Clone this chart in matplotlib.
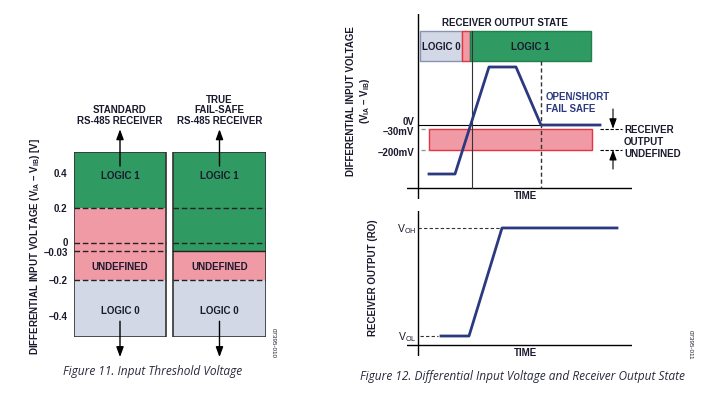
import numpy as np
import matplotlib.pyplot as plt
from matplotlib.patches import Rectangle

plt.rcParams['font.family'] = ['Liberation Sans', 'DejaVu Sans']
plt.rcParams['mathtext.fontset'] = 'custom'
plt.rcParams['mathtext.rm'] = 'Liberation Sans'
plt.rcParams['mathtext.bf'] = 'Liberation Sans:bold'

# ---- Figure 11: input threshold levels (V)
tick_volts = [0.4, 0.2, 0, -0.03, -0.2, -0.4]
tick_labels = ['0.4', '0.2', '0', '–0.03', '–0.2', '–0.4']
tick_nudge = [0, 0, 1.2, -1.2, 0, 0]   # px, to keep 0 and -0.03 apart
# schematic (non linear) spacing of the levels on the drawing
scale_volts = [-1.0, -0.52, -0.4, -0.2, -0.03, 0, 0.2, 0.4, 0.52, 1.0]
scale_pos = [-422, -338, -317, -281, -252, -244, -209, -174, -153, -69]

receivers = ['STANDARD\nRS-485 RECEIVER', 'TRUE\nFAIL-SAFE\nRS-485 RECEIVER']
# (bottom, top, state) for each receiver
bands = [
    [(-0.52, -0.2, 'LOGIC 0'), (-0.2, 0.2, 'UNDEFINED'), (0.2, 0.52, 'LOGIC 1')],
    [(-0.52, -0.2, 'LOGIC 0'), (-0.2, -0.03, 'UNDEFINED'), (-0.03, 0.52, 'LOGIC 1')],
]
dashed_levels = [[0.2, 0, -0.03, -0.2], [0.2, 0, -0.2]]
label_volts = {'LOGIC 1': 0.39, 'UNDEFINED': -0.115, 'LOGIC 0': -0.365}

# ---- Figure 12: differential input vs time (schematic mV)
t_in = [1.1, 3.7, 7.1, 9.8, 12.3, 18.2]
v_in = [-392, -392, 464, 464, 0, 0]
thr_hi = -30
thr_lo = -200
state_names = ['LOGIC 0', '', 'LOGIC 1']
state_start = [0.2, 4.4, 5.2]
state_end = [4.4, 5.2, 17.3]

# receiver output (VOL = 0, VOH = 1)
t_out = [2.3, 5.1, 8.4, 19.9]
v_out = [0, 0, 1, 1]

GREEN = '#2f9a62'
PINK = '#f09aa6'
GREY = '#d2d8e6'
NAVY = '#2b3a7e'
TXT = '#1a1a2e'
colors = {'LOGIC 0': GREY, 'UNDEFINED': PINK, 'LOGIC 1': GREEN, '': PINK}
ARROW = dict(arrowstyle='-|>,head_width=0.22,head_length=0.6', color='black', lw=1,
             shrinkA=0, shrinkB=0)

W, H = 711, 406
fig = plt.figure(figsize=(W / 100, H / 100), dpi=100)


def px_axes(x0, y0, x1, y1):
    ax = fig.add_axes([x0 / W, 1 - y1 / H, (x1 - x0) / W, (y1 - y0) / H])
    for s in ax.spines.values():
        s.set_visible(False)
    return ax


def fwd(v):
    return np.interp(v, scale_volts, scale_pos)


def inv(p):
    return np.interp(p, scale_pos, scale_volts)


# ===== left chart
ax1 = px_axes(74, 153, 266, 338)
ax1.set_yscale('function', functions=(fwd, inv))
ax1.set_ylim(-0.52, 0.52)
ax1.set_xlim(0, 2.087)
cols = [(0, 1.0), (1.076, 2.087)]
for (x0, x1), col_bands, dl, name in zip(cols, bands, dashed_levels, receivers):
    for lo, hi, st in col_bands:
        ax1.add_patch(Rectangle((x0, lo), x1 - x0, hi - lo, fc=colors[st], ec='none'))
        ax1.text((x0 + x1) / 2, label_volts[st], st, ha='center', va='center',
                 fontsize=7, fontweight='bold', color=TXT)
    for lv in dl:
        ax1.plot([x0, x1], [lv, lv], color='#222222', lw=1, ls=(0, (4, 2)))
    # solid boundary at -0.03 for the fail-safe receiver
    if len(dl) == 3:
        ax1.plot([x0, x1], [-0.03, -0.03], color='#222222', lw=1)
    ax1.add_patch(Rectangle((x0, -0.52), x1 - x0, 1.04, fc='none', ec='#333333', lw=1.2))
    xm = (x0 + x1) / 2
    ax1.annotate('', xy=(xm, 0.65), xytext=(xm, 0.44), annotation_clip=False, arrowprops=ARROW)
    ax1.annotate('', xy=(xm, -0.635), xytext=(xm, -0.43), annotation_clip=False, arrowprops=ARROW)
    ax1.text(xm, 0.675, name, ha='center', va='bottom', fontsize=7, fontweight='bold',
             color=TXT, linespacing=1.05)
ax1.set_xticks([])
ax1.set_yticks([])
for v, lab, dy in zip(tick_volts, tick_labels, tick_nudge):
    ax1.annotate(lab, xy=(0, v), xytext=(-4.5, dy * 0.72), textcoords='offset points',
                 ha='right', va='center', fontsize=7, fontweight='bold', color=TXT,
                 annotation_clip=False)

fig.text(35 / W, 1 - 247 / H,
         r'DIFFERENTIAL INPUT VOLTAGE (V$_{\mathbf{IA}}$ – V$_{\mathbf{IB}}$) [V]',
         rotation=90, ha='center', va='center', fontsize=7, fontweight='bold', color=TXT)
fig.text(273 / W, 1 - 343 / H, '07395-010', rotation=-90, ha='center', va='center',
         fontsize=4.5, color=TXT)
fig.text(153 / W, 1 - 372 / H, 'Figure 11. Input Threshold Voltage', ha='center',
         va='center', fontsize=8.6, style='italic', color='#2a2a40', family=['Open Sans'])

# ===== top right chart
ax2 = px_axes(407, 15, 632, 200)
ax2.set_xlim(-1.1, 21.4)
ax2.set_ylim(-592, 888)
ax2.set_xticks([])
ax2.set_yticks([])
ax2.axvline(0, color='black', lw=1)
ax2.axhline(-504, color='black', lw=1)
ax2.text(10.7, -560, 'TIME', ha='center', va='center', fontsize=7, fontweight='bold', color=TXT)
ax2.text(8.7, 824, 'RECEIVER OUTPUT STATE', ha='center', va='center', fontsize=7,
         fontweight='bold', color=TXT)
edge = {'LOGIC 0': '#8a93b5', '': '#e8323f', 'LOGIC 1': '#23804d'}
for name, a, b in zip(state_names, state_start, state_end):
    ax2.add_patch(Rectangle((a, 512), b - a, 240, fc=colors[name], ec=edge[name], lw=1))
    if name:
        ax2.text((a + b) / 2, 632, name, ha='center', va='center', fontsize=7,
                 fontweight='bold', color=TXT)
ax2.add_patch(Rectangle((t_in[0], thr_lo), 17.4 - t_in[0], thr_hi - thr_lo, fc=PINK,
                        ec='#e8323f', lw=1))
ax2.plot([0, t_in[4]], [0, 0], color='black', lw=0.8)
ax2.plot([0.3, t_in[0]], [thr_hi, thr_hi], color='#999999', lw=1, ls=(0, (3, 2)))
ax2.plot([0.3, t_in[0]], [thr_lo, thr_lo], color='#999999', lw=1, ls=(0, (3, 2)))
ax2.plot([5.4, 5.4], [752, -504], color='#333333', lw=0.8)
ax2.plot([t_in[4], t_in[4]], [512, -504], color='#333333', lw=1, ls=(0, (3, 2)))
ax2.plot(t_in, v_in, color=NAVY, lw=2)
ax2.text(12.8, 184, 'OPEN/SHORT\nFAIL SAFE', ha='left', va='center', fontsize=7,
         fontweight='bold', color=NAVY, linespacing=1.3)
for lv in (thr_hi, thr_lo):
    ax2.plot([18.2, 20.4], [lv, lv], color='black', lw=0.8, ls=(0, (3, 1.5)))
ax2.annotate('', xy=(19.5, thr_hi), xytext=(19.5, 128), annotation_clip=False,
             arrowprops=dict(ARROW, lw=0.8))
ax2.annotate('', xy=(19.5, thr_lo), xytext=(19.5, -352), annotation_clip=False,
             arrowprops=dict(ARROW, lw=0.8))
ax2.text(20.6, -128, 'RECEIVER\nOUTPUT\nUNDEFINED', ha='left', va='center', fontsize=7,
         fontweight='bold', color=TXT, linespacing=1.25, clip_on=False)
for lv, lab, dy in [(0, '0V', 4), (thr_hi, '–30mV', -2.5), (thr_lo, '–200mV', -2)]:
    ax2.annotate(lab, xy=(-0.35, lv), xytext=(0, dy * 0.72), textcoords='offset points',
                 ha='right', va='center', fontsize=7, fontweight='bold', color=TXT,
                 annotation_clip=False)
fig.text(359 / W, 1 - 101 / H,
         'DIFFERENTIAL INPUT VOLTAGE\n' + r'(V$_{\mathbf{IA}}$ – V$_{\mathbf{IB}}$)',
         rotation=90, ha='center', va='center', fontsize=7, fontweight='bold', color=TXT,
         multialignment='center', linespacing=1.1)

# ===== bottom right chart
ax3 = px_axes(407, 212, 632, 357)
ax3.set_xlim(-1.1, 21.4)
ax3.set_ylim(-0.185, 1.157)
ax3.set_xticks([])
ax3.set_yticks([])
ax3.axvline(0, color='black', lw=1)
ax3.axhline(-0.083, color='black', lw=1)
ax3.plot([0, t_out[2]], [1, 1], color='#333333', lw=0.8, ls=(0, (3, 2)))
ax3.plot([0.2, 2.0], [0, 0], color='#333333', lw=0.8, ls=(0, (3, 2)))
ax3.plot(t_out, v_out, color=NAVY, lw=2)
ax3.text(10.7, -0.145, 'TIME', ha='center', va='center', fontsize=7, fontweight='bold', color=TXT)
ax3.text(-0.15, 1, r'V$_{\mathrm{OH}}$', ha='right', va='center', fontsize=7.5, color=TXT,
         clip_on=False)
ax3.text(-0.15, 0, r'V$_{\mathrm{OL}}$', ha='right', va='center', fontsize=7.5, color=TXT,
         clip_on=False)
fig.text(373 / W, 1 - 278 / H, 'RECEIVER OUTPUT (RO)', rotation=90, ha='center',
         va='center', fontsize=7, fontweight='bold', color=TXT)
fig.text(690 / W, 1 - 345 / H, '07395-011', rotation=-90, ha='center', va='center',
         fontsize=4.5, color=TXT)
fig.text(522 / W, 1 - 377 / H,
         'Figure 12. Differential Input Voltage and Receiver Output State', ha='center',
         va='center', fontsize=8.6, style='italic', color='#2a2a40', family=['Open Sans'])

fig.savefig('out.png', dpi=100)
